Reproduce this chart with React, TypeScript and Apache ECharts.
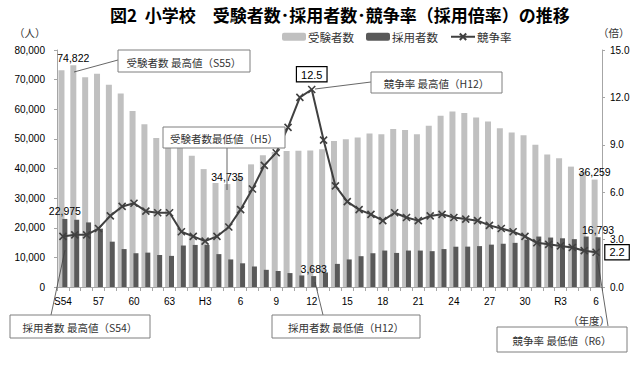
import React, { useEffect, useRef } from "react";
import * as echarts from "echarts";

const categories = [
  "S54","S55","S56","S57","S58","S59","S60","S61","S62","S63",
  "H1","H2","H3","H4","H5","H6","H7","H8","H9","H10",
  "H11","H12","H13","H14","H15","H16","H17","H18","H19","H20",
  "H21","H22","H23","H24","H25","H26","H27","H28","H29","H30",
  "R1","R2","R3","R4","R5","R6",
];

const xTickLabels = ["S54","57","60","63","H3","6","9","12","15","18","21","24","27","30","R3","6"];

const applicants = [
  73200, 74822, 70800, 72000, 68300, 65300, 59400, 54900, 50300, 48700,
  47400, 44300, 39800, 35100, 34735, 37000, 41400, 44500, 45600, 45900,
  46000, 46100, 46500, 49300, 49900, 50500, 51800, 51600, 53300, 53000,
  51600, 54400, 57800, 59230, 58703, 57178, 55834, 53606, 52161, 51197,
  47990, 44710, 43448, 40636, 38952, 36259,
];

const hired = [
  22975, 22700, 21800, 19700, 15300, 12800, 11400, 11600, 10800, 10500,
  14000, 14200, 14200, 11100, 9300, 8000, 6900, 5800, 5400, 4700,
  3900, 3683, 4900, 7800, 9300, 10400, 11400, 12300, 11500, 12300,
  12300, 12100, 12800, 13598, 13626, 13800, 14300, 14600, 14900, 15900,
  17029, 16693, 16440, 16152, 17034, 16793,
];

const ratio = [
  3.2, 3.3, 3.3, 3.7, 4.5, 5.1, 5.3, 4.8, 4.7, 4.7,
  3.5, 3.2, 2.9, 3.2, 3.8, 4.9, 6.2, 7.7, 8.5, 10.1,
  12.0, 12.5, 9.3, 6.4, 5.4, 4.9, 4.6, 4.2, 4.7, 4.4,
  4.2, 4.5, 4.6, 4.4, 4.3, 4.2, 3.9, 3.7, 3.5, 3.2,
  2.8, 2.7, 2.6, 2.5, 2.3, 2.2,
];

const seriesNames = ["受験者数", "採用者数", "競争率"];

const JP = '"Noto Sans CJK JP", "Noto Sans", sans-serif';
const NUM = '"Liberation Sans", Arial, sans-serif';

function argMax(a: number[]) { let k = 0; a.forEach((v, i) => { if (v > a[k]) k = i; }); return k; }
function argMin(a: number[]) { let k = 0; a.forEach((v, i) => { if (v < a[k]) k = i; }); return k; }

function callout(x: number, y: number, w: number, h: number, text: string) {
  return [
    { type: "rect", z: 100, shape: { x, y, width: w, height: h }, style: { fill: "#fff", stroke: "#7f7f7f", lineWidth: 1 } },
    { type: "text", z: 101, style: { x: x + w / 2, y: y + h / 2 + 1, text, align: "center", verticalAlign: "middle", fill: "#333", fontSize: 10.5, fontFamily: JP } },
  ];
}
function leader(x1: number, y1: number, x2: number, y2: number) {
  return { type: "line", z: 99, shape: { x1, y1, x2, y2 }, style: { stroke: "#404040", lineWidth: 0.8 } };
}

export default function App() {
  const ref = useRef<HTMLDivElement>(null);
  useEffect(() => {
    const chart = echarts.init(ref.current!, null, { renderer: "svg" });
    const fmt = (v: number) => v.toLocaleString("en-US");
    const valLabel = { show: true, position: "top", distance: 2, color: "#000", fontSize: 10.5, fontFamily: NUM, formatter: (p: any) => fmt(p.value) };
    const aMax = argMax(applicants), aMin = argMin(applicants), last = applicants.length - 1;
    const hMax = argMax(hired), hMin = argMin(hired);
    const rMax = argMax(ratio);

    const appData = applicants.map((v, i) => (i === aMax || i === aMin || i === last) ? { value: v, label: valLabel } : v);
    const hiredData = hired.map((v, i) => (i === hMax || i === hMin || i === last) ? { value: v, label: valLabel } : v);
    const boxLabel = { show: true, color: "#000", fontSize: 11, fontFamily: NUM, backgroundColor: "#fff", borderColor: "#000", borderWidth: 1.2, padding: [2, 4, 1, 4], formatter: (p: any) => p.value.toFixed(1) };
    const ratioData = ratio.map((v, i) => i === rMax ? { value: v, label: { ...boxLabel, position: "top", distance: 4 } }
      : i === last ? { value: v, label: { ...boxLabel, position: "right", distance: 5 } } : v);

    const xSymbol = "path://M0,0L10,10M10,0L0,10";

    const option: any = {
      animation: false,
      backgroundColor: "#fff",
      title: {
        text: "図2  小学校　受験者数･採用者数･競争率（採用倍率）の推移",
        left: 105, top: 1,
        textStyle: { fontSize: 17, fontWeight: "bold", color: "#000", fontFamily: JP },
      },
      legend: {
        data: seriesNames,
        left: 277, top: 26,
        itemWidth: 24, itemHeight: 8, itemGap: 12,
        textStyle: { fontSize: 11.5, color: "#333", fontFamily: JP, padding: [0, 0, 0, -3] },
      },
      grid: { left: 57, right: 38, top: 50, bottom: 86 },
      xAxis: {
        type: "category",
        data: categories,
        axisLine: { lineStyle: { color: "#a6a6a6" } },
        axisTick: { show: true, interval: 0, length: 4, lineStyle: { color: "#a6a6a6" } },
        axisLabel: {
          interval: 2, margin: 9, color: "#000", fontSize: 10, fontFamily: NUM,
          formatter: (_v: string, i: number) => xTickLabels[i / 3] ?? "",
        },
      },
      yAxis: [
        {
          type: "value", min: 0, max: 80000, interval: 10000,
          splitLine: { show: false },
          axisLine: { show: true, lineStyle: { color: "#a6a6a6" } },
          axisTick: { show: true, length: 3, lineStyle: { color: "#a6a6a6" } },
          axisLabel: { margin: 12, color: "#000", fontSize: 10, fontFamily: NUM, formatter: (v: number) => fmt(v) },
        },
        {
          type: "value", min: 0, max: 15, interval: 3,
          splitLine: { show: false },
          axisLine: { show: true, lineStyle: { color: "#a6a6a6" } },
          axisTick: { show: true, length: 3, lineStyle: { color: "#a6a6a6" } },
          axisLabel: { margin: 8, color: "#000", fontSize: 10, fontFamily: NUM, formatter: (v: number) => v.toFixed(1) },
        },
      ],
      series: [
        {
          name: seriesNames[0], type: "bar", data: appData, barWidth: 6, barGap: "-35%",
          itemStyle: { color: "#c0c0c0" }, z: 2,
        },
        {
          name: seriesNames[1], type: "bar", data: hiredData, barWidth: 5,
          itemStyle: { color: "#595959" }, z: 3,
        },
        {
          name: seriesNames[2], type: "line", yAxisIndex: 1, data: ratioData,
          symbol: xSymbol, symbolSize: 7,
          lineStyle: { color: "#404040", width: 2 },
          itemStyle: { color: "#404040", borderColor: "#404040", borderWidth: 1.6 },
          z: 5,
        },
      ],
      graphic: [
        { type: "text", z: 100, style: { x: 14, y: 32, text: "（人）", fill: "#333", fontSize: 10.5, fontFamily: JP, verticalAlign: "middle" } },
        { type: "text", z: 100, style: { x: 598, y: 32, text: "（倍）", fill: "#333", fontSize: 10.5, fontFamily: JP, verticalAlign: "middle" } },
        { type: "text", z: 100, style: { x: 568, y: 320, text: "（年度）", fill: "#333", fontSize: 10.5, fontFamily: JP, verticalAlign: "middle" } },
        leader(118, 60, 74, 72),
        ...callout(118, 50, 132, 22, "受験者数 最高値（S55）"),
        leader(227, 148, 227, 190),
        ...callout(163, 127, 122, 21, "受験者数最低値（H5）"),
        leader(371, 82, 315, 89),
        ...callout(371, 72, 131, 21, "競争率 最高値（H12）"),
        leader(51, 315, 65, 250),
        ...callout(10, 315, 140, 23, "採用者数 最高値（S54）"),
        leader(323, 315, 315, 282),
        ...callout(272, 315, 148, 23, "採用者数 最低値（H12）"),
        leader(608, 326, 597, 256),
        ...callout(497, 327, 130, 25, "競争率 最低値（R6）"),
      ],
    };
    chart.setOption(option);
    return () => chart.dispose();
  }, []);
  return <div ref={ref} style={{ position: "fixed", left: 0, top: 0, width: 640, height: 373 }} />;
}
